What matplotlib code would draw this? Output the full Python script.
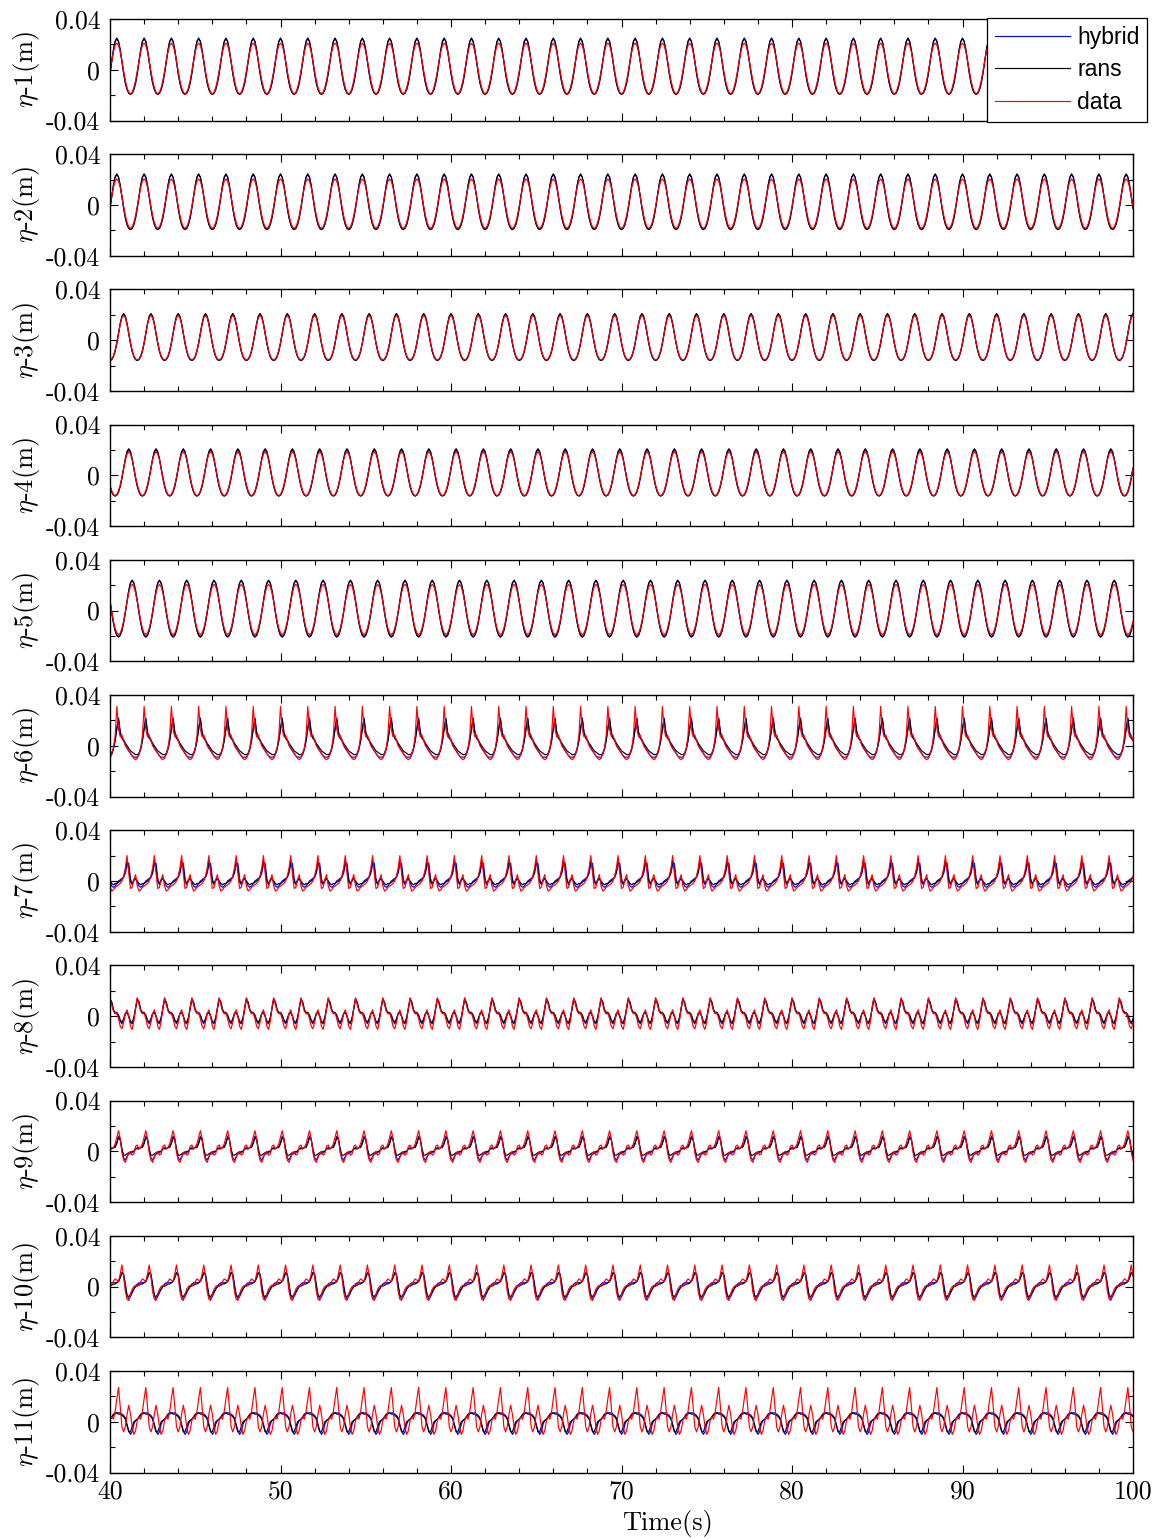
import numpy as np
import matplotlib
matplotlib.use("Agg")
import matplotlib.pyplot as plt
from matplotlib.ticker import MultipleLocator, FixedLocator

# ---------------- data: one wave period (1.6 s) sampled every 0.1 s, starting at t = 40 s
period_samples = 16
dt = 0.1
t_start, t_end = 40.0, 100.0

hybrid_1 = [-0.0028, 0.0064, 0.0154, 0.0220, 0.0245, 0.0220, 0.0154, 0.0064, -0.0028, -0.0103, -0.0154, -0.0182, -0.0190, -0.0182, -0.0154, -0.0103]
rans_1 = [-0.0028, 0.0066, 0.0157, 0.0225, 0.0250, 0.0225, 0.0157, 0.0066, -0.0028, -0.0105, -0.0157, -0.0186, -0.0195, -0.0186, -0.0157, -0.0105]
data_1 = [-0.0010, 0.0070, 0.0141, 0.0192, 0.0210, 0.0192, 0.0141, 0.0070, -0.0010, -0.0084, -0.0141, -0.0178, -0.0190, -0.0178, -0.0141, -0.0084]

hybrid_2 = [-0.0025, 0.0065, 0.0152, 0.0216, 0.0240, 0.0216, 0.0152, 0.0065, -0.0025, -0.0100, -0.0152, -0.0181, -0.0190, -0.0181, -0.0152, -0.0100]
rans_2 = [-0.0025, 0.0067, 0.0156, 0.0221, 0.0245, 0.0221, 0.0156, 0.0067, -0.0025, -0.0102, -0.0156, -0.0186, -0.0195, -0.0186, -0.0156, -0.0102]
data_2 = [-0.0010, 0.0068, 0.0138, 0.0187, 0.0205, 0.0187, 0.0138, 0.0068, -0.0010, -0.0082, -0.0138, -0.0173, -0.0185, -0.0173, -0.0138, -0.0082]

hybrid_3 = [-0.0160, -0.0153, -0.0129, -0.0086, -0.0023, 0.0054, 0.0129, 0.0185, 0.0205, 0.0185, 0.0129, 0.0054, -0.0023, -0.0086, -0.0129, -0.0153]
rans_3 = [-0.0160, -0.0153, -0.0131, -0.0089, -0.0025, 0.0053, 0.0131, 0.0189, 0.0210, 0.0189, 0.0131, 0.0053, -0.0025, -0.0089, -0.0131, -0.0153]
data_3 = [-0.0155, -0.0148, -0.0124, -0.0081, -0.0020, 0.0053, 0.0124, 0.0176, 0.0195, 0.0176, 0.0124, 0.0053, -0.0020, -0.0081, -0.0124, -0.0148]

hybrid_4 = [-0.0083, -0.0128, -0.0154, -0.0163, -0.0154, -0.0128, -0.0083, -0.0019, 0.0056, 0.0128, 0.0181, 0.0200, 0.0181, 0.0128, 0.0056, -0.0019]
rans_4 = [-0.0088, -0.0132, -0.0156, -0.0163, -0.0156, -0.0132, -0.0088, -0.0024, 0.0055, 0.0132, 0.0189, 0.0210, 0.0189, 0.0132, 0.0055, -0.0024]
data_4 = [-0.0075, -0.0122, -0.0151, -0.0160, -0.0151, -0.0122, -0.0075, -0.0013, 0.0057, 0.0122, 0.0168, 0.0185, 0.0168, 0.0122, 0.0057, -0.0013]

hybrid_5 = [0.0074, -0.0015, -0.0095, -0.0156, -0.0193, -0.0205, -0.0193, -0.0156, -0.0095, -0.0015, 0.0074, 0.0156, 0.0214, 0.0235, 0.0214, 0.0156]
rans_5 = [0.0076, -0.0015, -0.0097, -0.0159, -0.0197, -0.0210, -0.0197, -0.0159, -0.0097, -0.0015, 0.0076, 0.0159, 0.0219, 0.0240, 0.0219, 0.0159]
data_5 = [0.0070, -0.0008, -0.0082, -0.0140, -0.0177, -0.0190, -0.0177, -0.0140, -0.0082, -0.0008, 0.0070, 0.0140, 0.0189, 0.0206, 0.0189, 0.0140]

hybrid_6 = [-0.009, -0.007, -0.003, 0.004, 0.014, 0.022, 0.011, 0.006, 0.005, 0.001, -0.002, -0.004, -0.006, -0.008, -0.009, -0.009]
rans_6 = [-0.007, -0.006, -0.002, 0.004, 0.013, 0.021, 0.010, 0.006, 0.004, 0.002, 0.000, -0.002, -0.004, -0.005, -0.006, -0.007]
data_6 = [-0.010, -0.006, -0.002, 0.008, 0.031, 0.013, 0.007, 0.0085, 0.004, 0.000, -0.002, -0.004, -0.006, -0.008, -0.010, -0.011]

hybrid_7 = [-0.001, -0.004, -0.005, -0.004, -0.002, 0.000, 0.001, 0.002, 0.003, 0.006, 0.013, 0.014, 0.002, -0.003, 0.000, 0.002]
rans_7 = [0.000, -0.002, -0.003, -0.002, -0.002, -0.001, 0.000, 0.001, 0.003, 0.008, 0.016, 0.010, -0.001, -0.002, 0.001, 0.002]
data_7 = [-0.004, -0.008, -0.007, -0.005, -0.004, -0.003, -0.002, 0.000, 0.004, 0.010, 0.020, 0.006, -0.006, -0.005, 0.001, 0.005]

hybrid_8 = [0.014, 0.011, 0.005, 0.002, 0.002, 0.000, -0.004, -0.006, -0.003, 0.002, 0.003, 0.000, -0.005, -0.006, -0.002, 0.006]
rans_8 = [0.013, 0.011, 0.005, 0.003, 0.003, 0.001, -0.003, -0.005, -0.002, 0.002, 0.003, 0.000, -0.004, -0.005, -0.001, 0.006]
data_8 = [0.0145, 0.009, 0.004, 0.002, 0.0025, -0.002, -0.008, -0.010, -0.005, 0.002, 0.005, 0.000, -0.008, -0.0105, -0.004, 0.007]

hybrid_9 = [0.003, 0.002, 0.003, 0.004, 0.007, 0.012, 0.010, 0.001, -0.005, -0.007, -0.004, -0.002, -0.002, -0.001, 0.000, 0.002]
rans_9 = [0.002, 0.002, 0.003, 0.003, 0.006, 0.011, 0.009, 0.002, -0.003, -0.003, -0.002, -0.001, -0.001, 0.000, 0.000, 0.002]
data_9 = [0.005, 0.002, 0.003, 0.006, 0.011, 0.0163, 0.010, -0.001, -0.007, -0.0087, -0.005, -0.001, 0.000, -0.003, -0.002, 0.004]

hybrid_10 = [0.002, 0.003, 0.003, 0.003, 0.003, 0.004, 0.007, 0.011, 0.010, 0.002, -0.007, -0.010, -0.008, -0.005, -0.002, 0.000]
rans_10 = [0.001, 0.001, 0.002, 0.002, 0.003, 0.004, 0.007, 0.011, 0.009, 0.000, -0.007, -0.008, -0.006, -0.004, -0.002, 0.000]
data_10 = [0.000, 0.002, 0.004, 0.006, 0.005, 0.004, 0.010, 0.017, 0.008, -0.004, -0.010, -0.011, -0.006, -0.002, 0.000, 0.001]

hybrid_11 = [0.002, 0.003, 0.005, 0.006, 0.007, 0.007, 0.007, 0.006, 0.005, 0.003, -0.002, -0.007, -0.010, -0.008, -0.002, 0.001]
rans_11 = [0.002, 0.004, 0.006, 0.007, 0.007, 0.006, 0.006, 0.005, 0.004, 0.002, -0.003, -0.008, -0.008, -0.004, 0.000, 0.001]
data_11 = [0.001, 0.004, 0.002, 0.008, 0.018, 0.027, 0.012, -0.004, -0.008, -0.004, 0.006, 0.013, 0.006, -0.004, -0.010, -0.007]

hybrid = [hybrid_1, hybrid_2, hybrid_3, hybrid_4, hybrid_5, hybrid_6,
          hybrid_7, hybrid_8, hybrid_9, hybrid_10, hybrid_11]
rans = [rans_1, rans_2, rans_3, rans_4, rans_5, rans_6,
        rans_7, rans_8, rans_9, rans_10, rans_11]
data = [data_1, data_2, data_3, data_4, data_5, data_6,
        data_7, data_8, data_9, data_10, data_11]

ylabels = [r"$\eta$-%d(m)" % (i + 1) for i in range(11)]
series_names = ["hybrid", "rans", "data"]
series_colors = ["#0000ff", "#000000", "#ff0000"]
y_ticks = [-0.04, 0.0, 0.04]
y_ticklabels = ["-0.04", "0", "0.04"]
x_ticks = [40, 50, 60, 70, 80, 90, 100]

# ---------------- style
plt.rcParams["font.family"] = ["cmr10", "DejaVu Serif"]
plt.rcParams["mathtext.fontset"] = "cm"
plt.rcParams["axes.unicode_minus"] = False
plt.rcParams["axes.formatter.use_mathtext"] = True

W, H = 1163, 1539
fig = plt.figure(figsize=(W / 100, H / 100), dpi=100)

n_pts = int(round((t_end - t_start) / dt)) + 1
t = t_start + dt * np.arange(n_pts)
n_rep = n_pts // period_samples + 2

left_px, right_px = 110, 1133
top0_px, step_px, h_px = 19, 135.2, 101.5

axes = []
for k in range(11):
    top = top0_px + step_px * k
    ax = fig.add_axes([left_px / W, 1 - (top + h_px) / H,
                       (right_px - left_px) / W, h_px / H])
    axes.append(ax)
    lines = []
    for vals, name, col in zip((hybrid[k], rans[k], data[k]), series_names, series_colors):
        y = np.tile(np.asarray(vals), n_rep)[:n_pts]
        ln, = ax.plot(t, y, color=col, lw=0.85, label=name)
        lines.append(ln)
    ax.set_xlim(40, 100)
    ax.set_ylim(-0.04, 0.04)
    ax.set_yticks(y_ticks)
    ax.set_yticklabels(y_ticklabels)
    ax.yaxis.set_minor_locator(FixedLocator([-0.02, 0.02]))
    ax.set_xticks(x_ticks)
    ax.xaxis.set_minor_locator(MultipleLocator(2))
    ax.tick_params(which="both", direction="in", top=True, right=True,
                   labelsize=18.5, pad=7, width=0.8)
    ax.tick_params(which="major", length=6)
    ax.tick_params(which="minor", length=3.5)
    ax.tick_params(axis="x", pad=5)
    for sp in ax.spines.values():
        sp.set_linewidth(1.0)
    ax.set_ylabel(ylabels[k], fontsize=19)
    ax.yaxis.set_label_coords(-0.066, 0.5)
    if k < 10:
        ax.set_xticklabels([])
    else:
        ax.set_xticklabels([str(v) for v in x_ticks])
        ax.set_xlabel("Time(s)", fontsize=19, va="top")
        ax.xaxis.set_label_coords(0.545, -0.37)

leg = axes[0].legend(handles=lines, labels=series_names,
                     loc="upper left", bbox_to_anchor=(987 / W, 1 - 18 / H),
                     bbox_transform=fig.transFigure, borderaxespad=0,
                     prop={"family": "Liberation Sans", "size": 16.5},
                     frameon=True, fancybox=False, framealpha=1,
                     edgecolor="black", handlelength=3.3, handletextpad=0.3,
                     borderpad=0.33, labelspacing=0.43)
leg.get_frame().set_linewidth(0.9)
leg.set_zorder(10)

fig.savefig("out.png", dpi=100)
